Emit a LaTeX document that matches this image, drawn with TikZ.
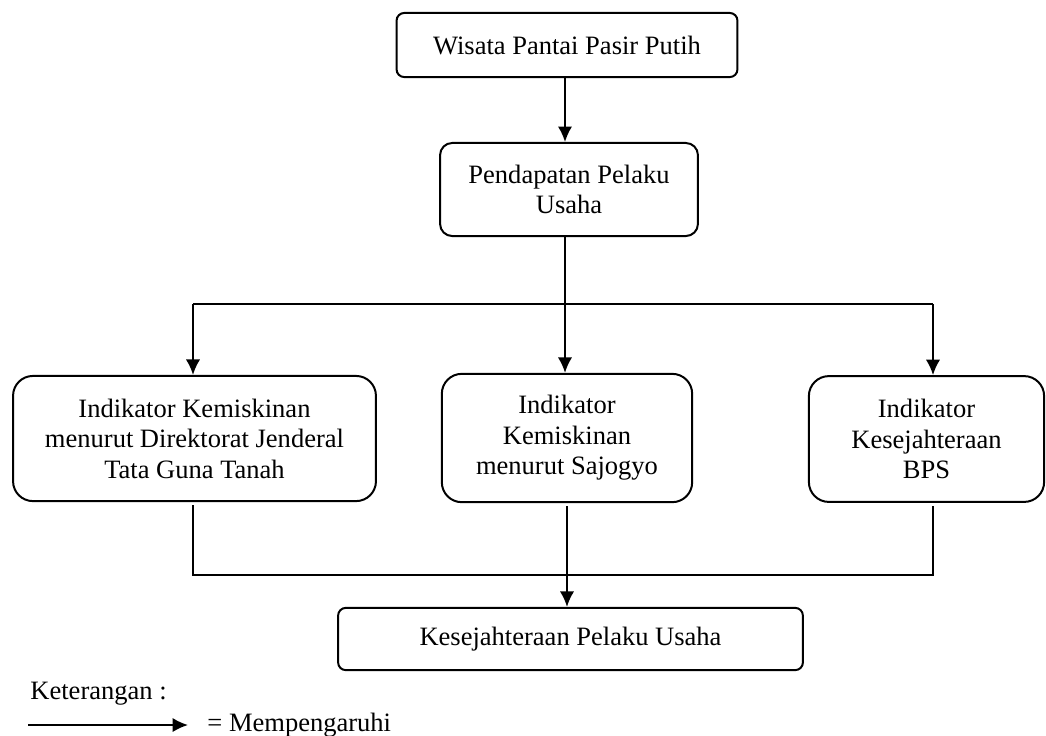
\documentclass[tikz,border=0pt]{standalone}
\usepackage{fontspec}
\setmainfont{Liberation Serif}
\usetikzlibrary{arrows.meta}
\begin{document}
\begin{tikzpicture}[x=0.0159cm,y=-0.0159cm,
                    blok/.style={draw,line width=0.9pt,align=center,inner sep=0pt,font=\fontsize{12}{13.8}\selectfont},
                    panah/.style={->,>={Latex[length=7pt,width=6.5pt]},line width=0.9pt}]
                    \useasboundingbox (0,0) rectangle (1046,735);
                    \node[blok,rounded corners=3.5pt,minimum width=5.42cm,minimum height=1.02cm](A) at (567,45) {Wisata Pantai Pasir Putih};
                    \node[blok,rounded corners=5.5pt,minimum width=4.10cm,minimum height=1.48cm](B) at (569,189.5) {Pendapatan Pelaku\\Usaha};
                    \node[blok,rounded corners=9pt,minimum width=5.77cm,minimum height=1.99cm](C) at (194.5,438.5) {Indikator Kemiskinan\\menurut Direktorat Jenderal\\Tata Guna Tanah};
                    \node[blok,rounded corners=9pt,minimum width=3.98cm,minimum height=2.04cm](D) at (567,438) {Indikator\\Kemiskinan\\menurut Sajogyo};
                    \node[blok,rounded corners=9pt,minimum width=3.74cm,minimum height=2.00cm](E) at (926.5,439) {Indikator\\Kesejahteraan\\BPS};
                    \node[blok,rounded corners=3.5pt,minimum width=7.39cm,minimum height=0.99cm](F) at (570.5,639) {Kesejahteraan Pelaku Usaha};
                    \node[anchor=base west,inner sep=0pt,font=\fontsize{12}{13.8}\selectfont](ket) at (30,699) {Keterangan :};
                    \node[anchor=base west,inner sep=0pt,font=\fontsize{12}{13.8}\selectfont](arti) at (207,731) {= Mempengaruhi};
                    \coordinate (s) at (565,304);
                    \coordinate (e) at (933,304);
                    \coordinate (jl) at (193,575);
                    \coordinate (jr) at (933,575);
                    \coordinate (l1) at (28,725);
                    \coordinate (l2) at (188,725);
                    \draw[panah] (A.south -| s) -- (B.north -| s);
                    \draw[panah] (B.south -| s) -- (D.north -| s);
                    \draw[line width=0.9pt] (jl |- s) -- (e);
                    \draw[panah] (jl |- s) -- (jl |- C.north);
                    \draw[panah] (e) -- (e |- E.north);
                    \draw[line width=0.9pt] ([yshift=-1.5pt]C.south -| jl) -- (jl) -- (jr) -- ([yshift=-1.5pt]E.south -| jr);
                    \draw[panah] ([yshift=-1.5pt]D.south) -- (D.south |- F.north);
                    \draw[panah] (l1) -- (l2);
                \end{tikzpicture}
\end{document}
